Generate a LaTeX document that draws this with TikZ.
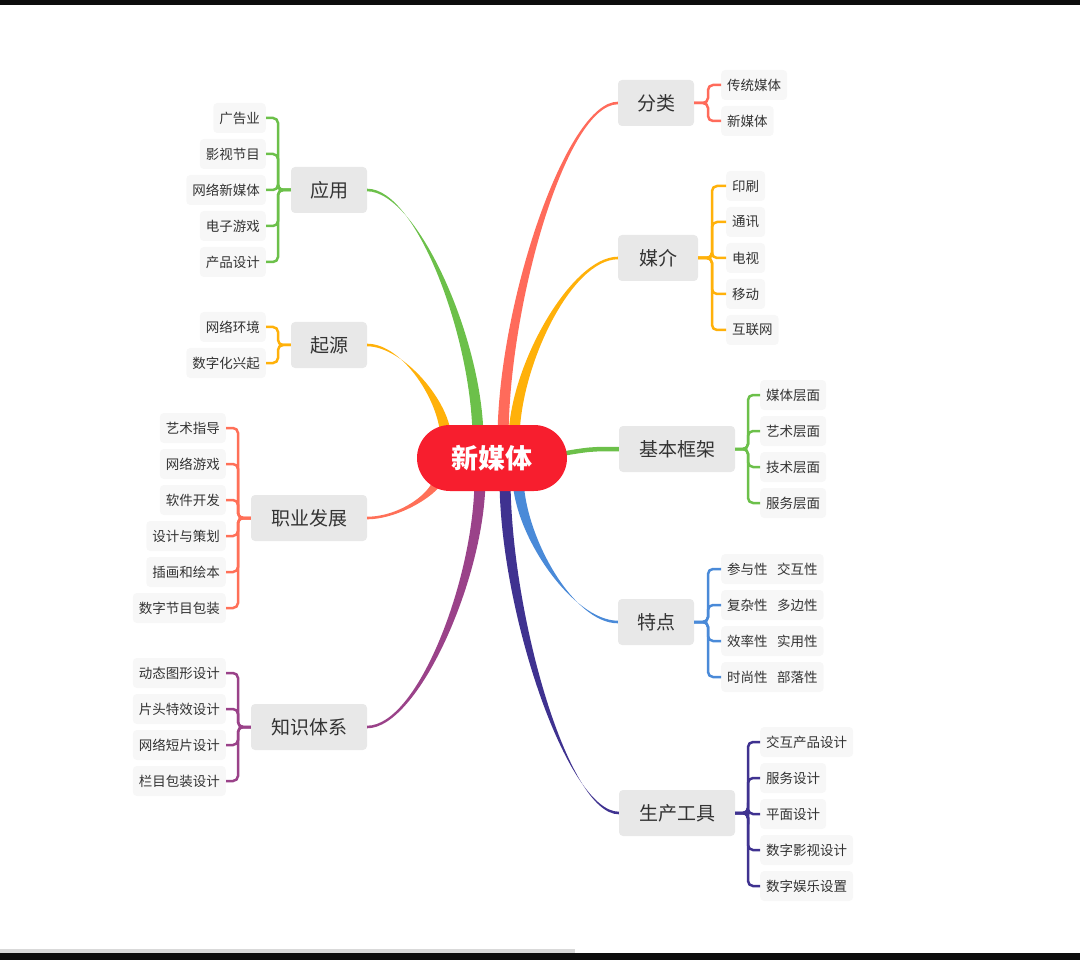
\documentclass[tikz,border=0pt]{standalone}
\usepackage{fontspec}
\newfontfamily\cjk{Noto Sans CJK SC}
\usetikzlibrary{calc}
\definecolor{cRed}{HTML}{F71E2E}
\definecolor{cSal}{HTML}{FF6B5B}
\definecolor{cOra}{HTML}{FFB10A}
\definecolor{cGrn}{HTML}{6CC04A}
\definecolor{cBlu}{HTML}{4A8AD8}
\definecolor{cDpu}{HTML}{3F3290}
\definecolor{cPur}{HTML}{9A4289}
\definecolor{cCor}{HTML}{FF7058}
\tikzset{
 mainbox/.style={fill=black!9,rounded corners=4pt,minimum height=46pt,inner sep=0pt,font=\cjk\fontsize{19}{19}\selectfont,text=black!80},
 leaf/.style={fill=black!3,rounded corners=4pt,minimum height=30pt,inner xsep=6pt,inner ysep=0pt,font=\cjk\fontsize{13.5}{13.5}\selectfont,text=black!80},
 rleaf/.style={leaf,anchor=west},
 lleaf/.style={leaf,anchor=east},
 brk/.style={line width=2.5pt,rounded corners=5pt},
}
\newcommand\twig[3]{%
\fill[#1] ($(#2)+(-5.5,0)$) .. controls ($(#2)!0.4!(#2|-#3)+(-5.5,0)$) and ($(#2|-#3)!0.55!(#3)+(0,-1.3)$) .. ($(#3)+(0,-1.3)$) -- ($(#3)+(0,1.3)$) .. controls ($(#2|-#3)!0.55!(#3)+(0,1.3)$) and ($(#2)!0.4!(#2|-#3)+(5.5,0)$) .. ($(#2)+(5.5,0)$) -- cycle;}
\begin{document}
\begin{tikzpicture}[x=1pt,y=-1pt]
\useasboundingbox (0,0) rectangle (1080,960);
\fill[black!95] (0,0) rectangle (1080,5);
\fill[black!95] (0,953) rectangle (1080,960);
\fill[black!15] (0,949) rectangle (575,953);
% main nodes
\node[mainbox,minimum width=76pt] (fl) at (656,103) {分类};
\node[mainbox,minimum width=80pt] (mj) at (658,258) {媒介};
\node[mainbox,minimum width=116pt] (jb) at (677,449) {基本框架};
\node[mainbox,minimum width=76pt] (td) at (656,622) {特点};
\node[mainbox,minimum width=116pt] (sc) at (677,813) {生产工具};
\node[mainbox,minimum width=76pt] (yy) at (329,190) {应用};
\node[mainbox,minimum width=76pt] (qy) at (329,345) {起源};
\node[mainbox,minimum width=116pt] (zy) at (309,518) {职业发展};
\node[mainbox,minimum width=116pt] (zs) at (309,727) {知识体系};
% start points
\coordinate (sfl) at (503,440);
\coordinate (smj) at (514,440);
\coordinate (syy) at (478,440);
\coordinate (sqy) at (446,440);
\coordinate (szy) at (440,474);
\coordinate (std) at (518,476);
\coordinate (ssc) at (505,478);
\coordinate (szs) at (480,478);
\coordinate (sjb) at (555,455);
\twig{cSal}{sfl}{fl.west}
\twig{cOra}{smj}{mj.west}
\twig{cGrn}{syy}{yy.east}
\twig{cOra}{sqy}{qy.east}
\twig{cCor}{szy}{zy.east}
\twig{cBlu}{std}{td.west}
\twig{cDpu}{ssc}{sc.west}
\twig{cPur}{szs}{zs.east}
\draw[cGrn,line width=4.5pt] (sjb) .. controls (590,449) .. (jb.west);
\node[fill=cRed,rounded corners=33pt,minimum width=150pt,minimum height=66pt,text=white,font=\cjk\bfseries\fontsize{27}{27}\selectfont] (root) at (492,458) {新媒体};
% leaves right
\foreach \t [count=\i from 0] in {传统媒体,新媒体}
 {\node[rleaf] (l) at (721,85+36*\i) {\t}; \draw[brk,cSal] (fl.east) -- (708,103) |- (l.west);}
\foreach \t [count=\i from 0] in {印刷,通讯,电视,移动,互联网}
 {\node[rleaf] (l) at (726,186+36*\i) {\t}; \draw[brk,cOra] (mj.east) -- (712,258) |- (l.west);}
\foreach \t [count=\i from 0] in {媒体层面,艺术层面,技术层面,服务层面}
 {\node[rleaf] (l) at (760,395+36*\i) {\t}; \draw[brk,cGrn] (jb.east) -- (748,449) |- (l.west);}
\foreach \a/\b [count=\i from 0] in {参与性/交互性,复杂性/多边性,效率性/实用性,时尚性/部落性}
 {\node[rleaf] (l) at (721,569+36*\i) {\a\hspace{0.7em}\b}; \draw[brk,cBlu] (td.east) -- (708,622) |- (l.west);}
\foreach \t [count=\i from 0] in {交互产品设计,服务设计,平面设计,数字影视设计,数字娱乐设置}
 {\node[rleaf] (l) at (760,742+36*\i) {\t}; \draw[brk,cDpu] (sc.east) -- (748,813) |- (l.west);}
% leaves left
\foreach \t [count=\i from 0] in {广告业,影视节目,网络新媒体,电子游戏,产品设计}
 {\node[lleaf] (l) at (266,118+36*\i) {\t}; \draw[brk,cGrn] (yy.west) -- (278,190) |- (l.east);}
\foreach \t [count=\i from 0] in {网络环境,数字化兴起}
 {\node[lleaf] (l) at (266,327+36*\i) {\t}; \draw[brk,cOra] (qy.west) -- (278,345) |- (l.east);}
\foreach \t [count=\i from 0] in {艺术指导,网络游戏,软件开发,设计与策划,插画和绘本,数字节目包装}
 {\node[lleaf] (l) at (226,428+36*\i) {\t}; \draw[brk,cCor] (zy.west) -- (238,518) |- (l.east);}
\foreach \t [count=\i from 0] in {动态图形设计,片头特效设计,网络短片设计,栏目包装设计}
 {\node[lleaf] (l) at (226,673+36*\i) {\t}; \draw[brk,cPur] (zs.west) -- (238,727) |- (l.east);}
\end{tikzpicture}
\end{document}
